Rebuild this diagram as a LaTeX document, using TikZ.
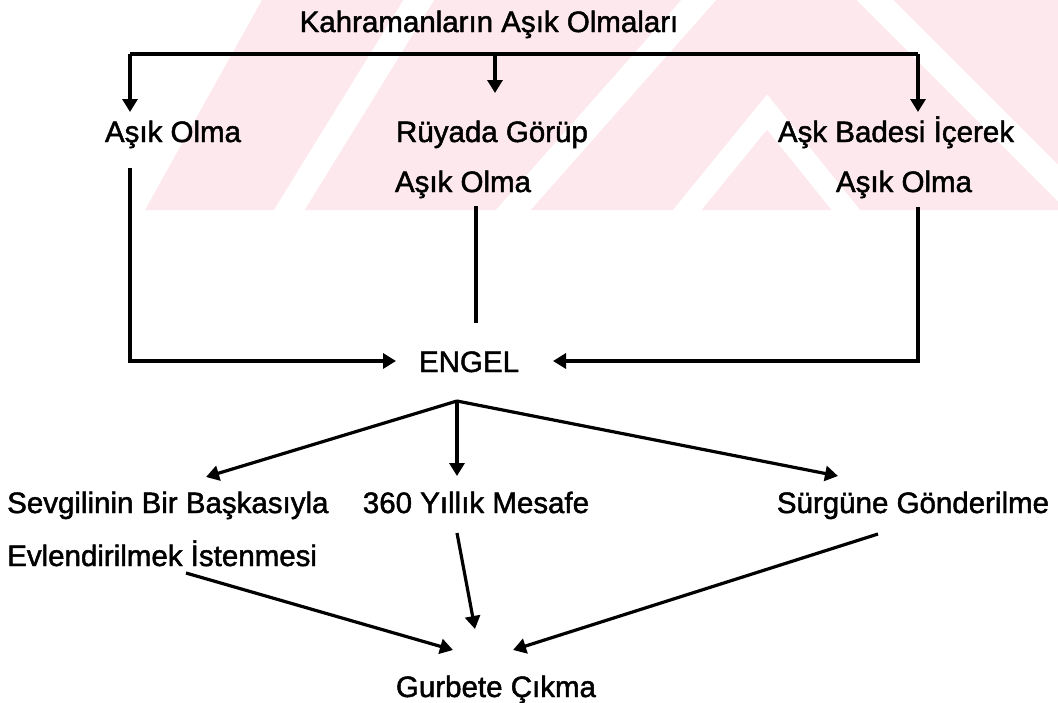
\documentclass[tikz,border=0pt]{standalone}
\usepackage{fontspec}
\setmainfont{Liberation Sans}
\newfontfamily\scanfont{Liberation Sans}[FakeBold=1.6]
\usetikzlibrary{arrows.meta}
\definecolor{wmpink}{RGB}{253,233,237}
\begin{document}
\begin{tikzpicture}[x=1pt,y=-1pt,
  lbl/.style={font=\scanfont\fontsize{29.5}{32}\selectfont, inner sep=0pt, anchor=base},
  lblw/.style={lbl, anchor=base west},
  conn/.style={line width=3.2pt, line join=miter},
  arr/.style={conn, -{Triangle[length=13pt,width=15pt]}},
  wmstripe/.style={white, line width=26pt}]
\useasboundingbox (0,0) rectangle (1058,702);
\fill[white] (0,0) rectangle (1058,702);
% faint watermark
\begin{scope}
  \clip (0,0) rectangle (1058,210);
  \fill[wmpink] (145,210) -- (262,0) -- (1058,0) -- (1058,210) -- cycle;
  \draw[wmstripe] (428,-15) -- (280,225);
  \draw[wmstripe] (712,-15) -- (500,225);
  \draw[wmstripe, line width=22pt] (675,225) -- (767,112) -- (858,225);
  \draw[wmstripe] (860,-15) -- (1075,200);
\end{scope}

% texts
\node[lbl] (title) at (489,32) {Kahramanların Aşık Olmaları};
\node[lbl] (a1) at (173,142) {Aşık Olma};
\node[lbl] (r1) at (492,142) {Rüyada Görüp};
\node[lbl] (r2) at (463,192) {Aşık Olma};
\node[lbl] (b1) at (896,142) {Aşk Badesi İçerek};
\node[lbl] (b2) at (904,192) {Aşık Olma};
\node[lbl] (engel) at (469,372) {ENGEL};
\node[lblw] (s1) at (7,513) {Sevgilinin Bir Başkasıyla};
\node[lblw] (s2) at (7,566) {Evlendirilmek İstenmesi};
\node[lbl] (m1) at (476,513) {360 Yıllık Mesafe};
\node[lbl] (g1) at (913,513) {Sürgüne Gönderilme};
\node[lbl] (gc) at (496,697) {Gurbete Çıkma};

% connector points
\coordinate (barL) at (130,54);
\coordinate (barM) at (495,54);
\coordinate (barR) at (918,54);
\coordinate (a1in) at (130,112);
\coordinate (r1in) at (495,93);
\coordinate (b1in) at (918,112);
\coordinate (a1out) at (130,168);
\coordinate (eL) at (130,361);
\coordinate (engelL) at (396,361);
\coordinate (r2out) at (476,206);
\coordinate (r2end) at (476,323);
\coordinate (b2out) at (918,207);
\coordinate (eR) at (918,361);
\coordinate (engelR) at (553,361);
\coordinate (apex) at (457,401);
\coordinate (s1in) at (206,477);
\coordinate (m1in) at (457,476);
\coordinate (g1in) at (838,476);
\coordinate (s2out) at (186,573);
\coordinate (m1out) at (457,533);
\coordinate (g1out) at (878,534);
\coordinate (gcL) at (453,650);
\coordinate (gcM) at (475,629);
\coordinate (gcR) at (513,650);

% connectors
\draw[conn] (barL) -- (barR);
\draw[arr] (barL) -- (a1in);
\draw[arr] (barM) -- (r1in);
\draw[arr] (barR) -- (b1in);
\draw[arr] (a1out) -- (eL) -- (engelL);
\draw[conn] (r2out) -- (r2end);
\draw[arr] (b2out) -- (eR) -- (engelR);
\draw[arr] (apex) -- (s1in);
\draw[arr] (apex) -- (m1in);
\draw[arr] (apex) -- (g1in);
\draw[arr] (s2out) -- (gcL);
\draw[arr] (m1out) -- (gcM);
\draw[arr] (g1out) -- (gcR);
\end{tikzpicture}
\end{document}
